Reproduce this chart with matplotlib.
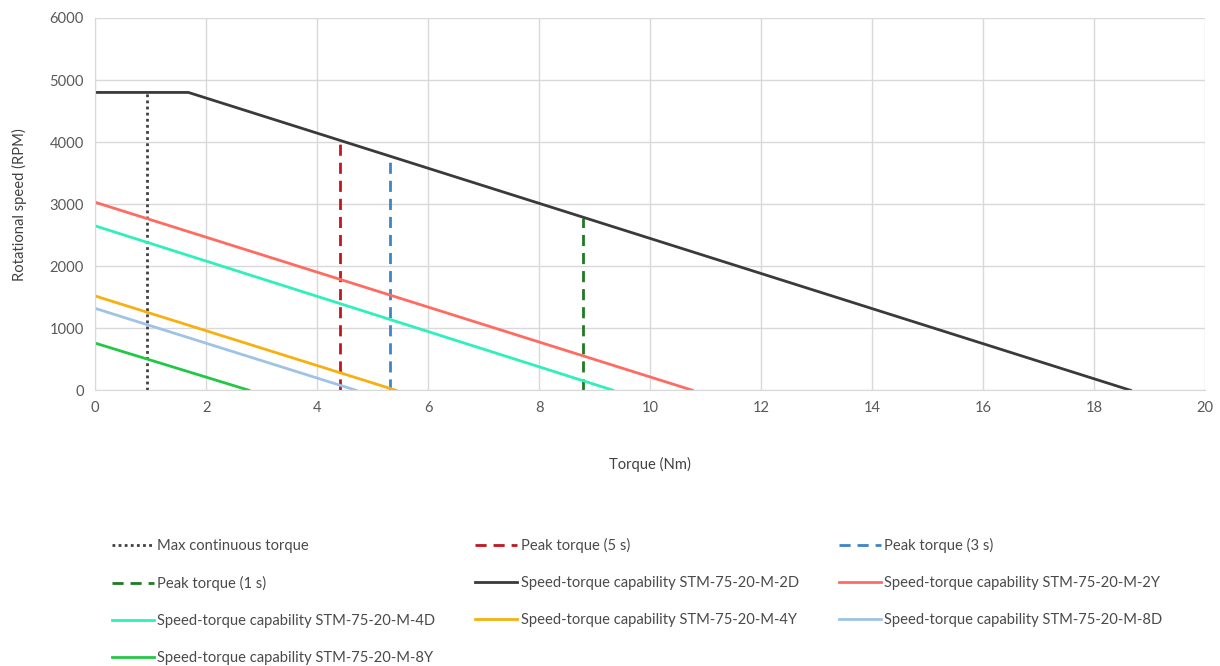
import matplotlib.pyplot as plt

plt.rcParams['font.family'] = ['Lato', 'DejaVu Sans']

# speed-torque capability curves (torque Nm, speed RPM)
torque_2d = [0, 1.68, 18.65]
speed_2d = [4800, 4800, 0]
torque_2y = [0, 10.76]
speed_2y = [3030, 0]
torque_4d = [0, 9.33]
speed_4d = [2650, 0]
torque_4y = [0, 5.42]
speed_4y = [1520, 0]
torque_8d = [0, 4.70]
speed_8d = [1320, 0]
torque_8y = [0, 2.77]
speed_8y = [760, 0]

# torque limit markers: x position and top speed
max_cont = (0.94, 4800)
peak_5s = (4.41, 4030)
peak_3s = (5.32, 3770)
peak_1s = (8.79, 2780)

fig = plt.figure(figsize=(12.2, 6.66), dpi=100)
ax = fig.add_axes([0.078, 0.414, 0.910, 0.559])

lw = 2.0
h_max, = ax.plot([max_cont[0]] * 2, [0, max_cont[1]], color='#404040', lw=lw,
                 dashes=(1, 1.2), label='Max continuous torque')
h_p5, = ax.plot([peak_5s[0]] * 2, [0, peak_5s[1]], color='#c0161c', lw=lw,
                dashes=(4, 2.5), label='Peak torque (5 s)')
h_p3, = ax.plot([peak_3s[0]] * 2, [0, peak_3s[1]], color='#3c85c6', lw=lw,
                dashes=(4, 2.5), label='Peak torque (3 s)')
h_p1, = ax.plot([peak_1s[0]] * 2, [0, peak_1s[1]], color='#1f7a24', lw=lw,
                dashes=(4, 2.5), label='Peak torque (1 s)')
h_2d, = ax.plot(torque_2d, speed_2d, color='#3a3a3a', lw=lw,
                label='Speed-torque capability STM-75-20-M-2D')
h_2y, = ax.plot(torque_2y, speed_2y, color='#ff6b61', lw=lw,
                label='Speed-torque capability STM-75-20-M-2Y')
h_4d, = ax.plot(torque_4d, speed_4d, color='#2ef0bb', lw=lw,
                label='Speed-torque capability STM-75-20-M-4D')
h_4y, = ax.plot(torque_4y, speed_4y, color='#f7b010', lw=lw,
                label='Speed-torque capability STM-75-20-M-4Y')
h_8d, = ax.plot(torque_8d, speed_8d, color='#9fc3e7', lw=lw,
                label='Speed-torque capability STM-75-20-M-8D')
h_8y, = ax.plot(torque_8y, speed_8y, color='#22c845', lw=lw,
                label='Speed-torque capability STM-75-20-M-8Y')

ax.set_xlim(0, 20)
ax.set_ylim(0, 6000)
ax.set_xticks(range(0, 21, 2))
ax.set_yticks(range(0, 6001, 1000))
ax.grid(True, color='#d9d9d9', lw=1)
ax.set_axisbelow(True)
for s in ['top', 'right']:
    ax.spines[s].set_visible(False)
for s in ['left', 'bottom']:
    ax.spines[s].set_color('#d9d9d9')
ax.tick_params(length=0, labelsize=10.6, colors='#595959', pad=8)
ax.set_xlabel('Torque (Nm)', fontsize=10.6, color='#404040', labelpad=30)
ax.set_ylabel('Rotational speed (RPM)', fontsize=10.6, color='#404040', labelpad=16)

# matplotlib fills legend column-wise, so reorder to match row-wise layout
handles = [h_max, h_p1, h_4d, h_8y, h_p5, h_2d, h_4y, h_p3, h_2y, h_8d]
leg = fig.legend(handles=handles, ncol=3, loc='upper left',
                 bbox_to_anchor=(0.0868, 0.201), frameon=False, fontsize=10.6,
                 handlelength=2.85, handletextpad=0.25, columnspacing=2.7,
                 labelspacing=1.56, borderaxespad=0)
for t in leg.get_texts():
    t.set_color('#4a4a4a')

fig.savefig('out.png', dpi=100)
